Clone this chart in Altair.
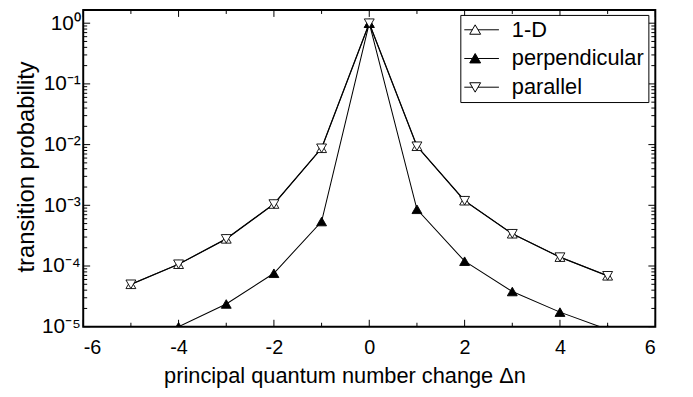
import altair as alt
import pandas as pd

# ---------------- data ----------------
series_names = ["1-D", "perpendicular", "parallel"]

dn_1d = [-5, -4, -3, -2, -1, 0, 1, 2, 3, 4, 5]
p_1d = [5.0e-5, 1.07e-4, 2.8e-4, 1.05e-3, 8.7e-3, 1.0, 9.4e-3, 1.19e-3, 3.4e-4, 1.4e-4, 6.9e-5]

dn_perp = [-4, -3, -2, -1, 0, 1, 2, 3, 4, 5]
p_perp = [1.0e-5, 2.37e-5, 7.6e-5, 5.4e-4, 1.0, 8.6e-4, 1.2e-4, 3.8e-5, 1.74e-5, 9.0e-6]

dn_par = [-5, -4, -3, -2, -1, 0, 1, 2, 3, 4, 5]
p_par = [5.0e-5, 1.07e-4, 2.8e-4, 1.05e-3, 8.7e-3, 1.0, 9.4e-3, 1.19e-3, 3.4e-4, 1.4e-4, 6.9e-5]

x_major = [-6, -4, -2, 0, 2, 4, 6]
x_minor = [-5, -3, -1, 1, 3, 5]
y_major = [1e-5, 1e-4, 1e-3, 1e-2, 1e-1, 1e0]
y_minor = [k * 10.0 ** d for d in range(-5, 0) for k in range(2, 10)]
y_sup = ["\u2070", "\u207b\u00b9", "\u207b\u00b2", "\u207b\u00b3", "\u207b\u2074", "\u207b\u2075"]

x_domain = [-6, 6]
y_domain = [1e-5, 1.65]

# ---------------- layout ----------------
W, H = 578, 320
FONT = "Liberation Sans"
MAJ, MIN = 7, 4

rows = []
for name, xv_list, yv_list in [("1-D", dn_1d, p_1d), ("perpendicular", dn_perp, p_perp), ("parallel", dn_par, p_par)]:
    for xv, yv in zip(xv_list, yv_list):
        rows.append({"series": name, "dn": xv, "p": yv})
df = pd.DataFrame(rows)

xs = alt.Scale(domain=x_domain, nice=False, zero=False)
ys = alt.Scale(type="log", domain=y_domain, nice=False, zero=False)

lines = alt.Chart(df).mark_line(color="black", clip=True).encode(
    x=alt.X("dn:Q", scale=xs,
            axis=alt.Axis(values=x_major, ticks=False, domain=False, grid=False,
                          labelFont=FONT, labelFontSize=20, labelColor="black",
                          labelPadding=11, labelExpr="'' + datum.value",
                          title="principal quantum number change \u0394n",
                          titleFont=FONT, titleFontSize=22, titleFontWeight="normal",
                          titleColor="black", titleBaseline="alphabetic", titleY=56,
                          titleX=264, titleAlign="center")),
    y=alt.Y("p:Q", scale=ys,
            axis=alt.Axis(values=y_major, ticks=False, domain=False, grid=False,
                          labelFont=FONT, labelFontSize=21, labelColor="black",
                          labelPadding=3,
                          labelExpr="'10' + " + str(y_sup) + "[round(-log(datum.value)/LN10)]",
                          title="transition probability",
                          titleFont=FONT, titleFontSize=24, titleFontWeight="normal",
                          titleColor="black", titleX=-57, titleY=158,
                          titleBaseline="middle", titleAlign="center", titleAngle=270)),
    detail="series:N",
    strokeWidth=alt.StrokeWidth("series:N", scale=alt.Scale(domain=series_names, range=[1.3, 0.8, 1.3]), legend=None),
)

points = alt.Chart(df).mark_point(filled=True, stroke="black", strokeWidth=0.9, size=100, opacity=1, clip=True).encode(
    x=alt.X("dn:Q", scale=xs, axis=None),
    y=alt.Y("p:Q", scale=ys, axis=None),
    shape=alt.Shape("series:N", scale=alt.Scale(domain=series_names, range=["triangle-up", "triangle-up", "triangle-down"]), legend=None),
    fill=alt.Fill("series:N", scale=alt.Scale(domain=series_names, range=["white", "black", "white"]), legend=None),
)

# legend symbols: line - triangle - line
up = "M0,-0.5L0.55,0.45L-0.55,0.45Z"
down = "M0,0.5L0.55,-0.45L-0.55,-0.45Z"
seg = "M-1.1,0H-0.29M0.29,0H2.4"
leg_paths = [seg + up, seg + up, seg + down]

leg = alt.Legend(title=None, orient="none", legendX=381, legendY=5,
                 strokeColor="black", fillColor="white", padding=4, rowPadding=7,
                 labelFont=FONT, labelFontSize=22, labelColor="black", labelOffset=26,
                 symbolSize=400, symbolStrokeWidth=1, symbolStrokeColor="black", symbolOpacity=1)

legend_layer = alt.Chart(df).transform_filter("false").mark_point(filled=True, strokeWidth=1).encode(
    shape=alt.Shape("series:N", scale=alt.Scale(domain=series_names, range=leg_paths), legend=leg),
    fill=alt.Fill("series:N", scale=alt.Scale(domain=series_names, range=["white", "black", "white"]), legend=leg),
    stroke=alt.Stroke("series:N", scale=alt.Scale(domain=series_names, range=["black", "black", "black"]), legend=leg),
)

def yticks(vals, length, left):
    d = pd.DataFrame({"v": vals})
    return alt.Chart(d).mark_rule(color="black", strokeWidth=1).encode(
        y=alt.Y("v:Q", scale=ys, axis=None),
        x=alt.value(0 if left else W),
        x2=alt.value(length if left else W - length),
    )

def xticks(vals, length, bottom):
    d = pd.DataFrame({"v": vals})
    return alt.Chart(d).mark_rule(color="black", strokeWidth=1).encode(
        x=alt.X("v:Q", scale=xs, axis=None),
        y=alt.value(H if bottom else 0),
        y2=alt.value(H - length if bottom else length),
    )

ticks = [
    yticks(y_major, MAJ, True), yticks(y_minor, MIN, True),
    yticks(y_major, MAJ, False), yticks(y_minor, MIN, False),
    xticks(x_major, MAJ, True), xticks(x_minor, MIN, True),
    xticks(x_major, MAJ, False), xticks(x_minor, MIN, False),
]

chart = alt.layer(lines, *ticks, points, legend_layer).resolve_scale(
    shape="independent", fill="independent", stroke="independent"
).resolve_axis(
    x="independent", y="independent"
).properties(
    width=W, height=H,
    background="white",
    autosize=alt.AutoSizeParams(type="none"),
    padding={"left": 76, "top": 0, "right": 30, "bottom": 69},
).configure_view(stroke="black", strokeWidth=2)

chart.save("out.html", embed_options={"renderer": "svg", "actions": False})
